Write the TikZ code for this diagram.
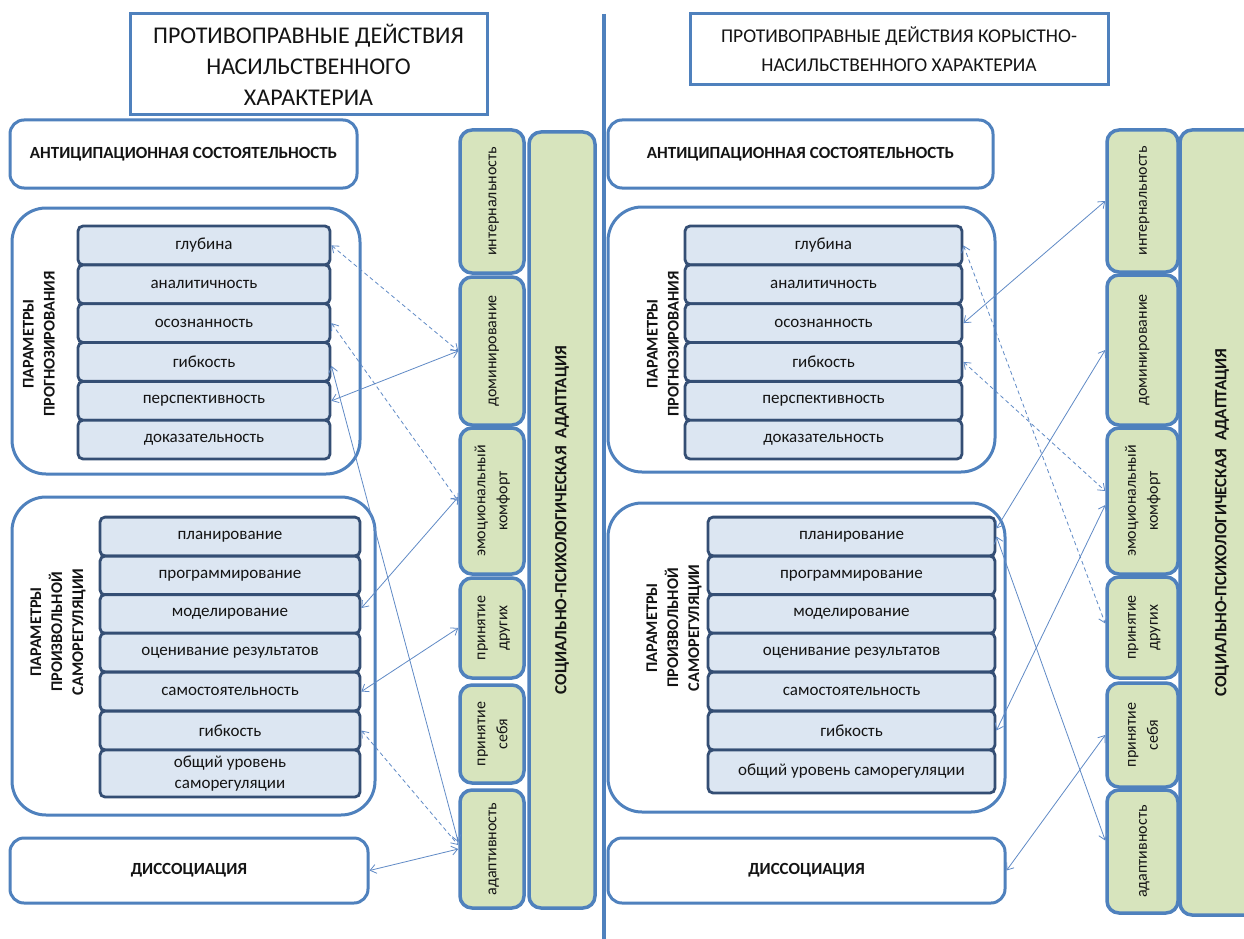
\documentclass[tikz,border=0pt]{standalone}
\usepackage{fontspec}
\setmainfont{Carlito}
\usetikzlibrary{arrows.meta}
\definecolor{obl}{RGB}{79,129,189}
\definecolor{ibd}{RGB}{52,78,116}
\definecolor{ifl}{RGB}{220,230,242}
\definecolor{gfl}{RGB}{215,228,189}
\definecolor{con}{RGB}{96,138,198}
\definecolor{txt}{RGB}{20,20,20}
\newcommand{\rlab}[1]{\rotatebox{90}{\begin{tabular}{@{}c@{}}#1\end{tabular}}}
\begin{document}
\begin{tikzpicture}[x=1pt,y=-1pt,
  titlebox/.style={draw=obl,line width=3pt,fill=white,align=center,text=txt,inner sep=0pt},
  mainbox/.style={draw=obl,line width=3pt,rounded corners=14pt,fill=white,font=\bfseries\fontsize{17}{20}\selectfont,text=txt,inner sep=0pt},
  groupbox/.style={draw=obl,line width=3pt,rounded corners=34pt,fill=white,inner sep=0pt},
  item/.style={draw=ibd,line width=2.8pt,rounded corners=5pt,fill=ifl,font=\fontsize{17}{21}\selectfont,text=txt,align=center,inner sep=0pt},
  grp/.style={font=\bfseries\fontsize{16.3}{21}\selectfont,align=center,rotate=90,text=txt},
  gbox/.style={draw=obl,line width=3.5pt,rounded corners=12pt,fill=gfl,inner sep=0pt,text=txt,font=\fontsize{16}{22}\selectfont},
  bigbox/.style={gbox,font=\bfseries\fontsize{17}{20}\selectfont},
  link/.style={draw=con,line width=0.8pt,{Straight Barb[length=6pt,width=9pt]}-{Straight Barb[length=6pt,width=9pt]}},
  dlink/.style={link,dash pattern=on 4pt off 3pt},
]
\useasboundingbox (0,0) rectangle (1244,939);
\fill[white] (0,0) rectangle (1244,939);

% divider
\draw[obl,line width=4pt] (604,14) -- (604,939);

% ================= LEFT =================
\node[titlebox,minimum width=357,minimum height=101,font=\fontsize{24}{31}\selectfont] (titleL) at (308.5,64.5)
  {ПРОТИВОПРАВНЫЕ ДЕЙСТВИЯ\\НАСИЛЬСТВЕННОГО\\ХАРАКТЕРИА};
\node[mainbox,minimum width=347,minimum height=68] (antL) at (183.5,154) {АНТИЦИПАЦИОННАЯ СОСТОЯТЕЛЬНОСТЬ};

\node[groupbox,minimum width=348,minimum height=266] (progL) at (186,341) {};
\node[grp] (progLlab) at (39,344) {ПАРАМЕТРЫ\\ПРОГНОЗИРОВАНИЯ};
\foreach \n/\t/\y in {a/глубина/245.4, b/аналитичность/284.3, c/осознанность/323.1,
  d/гибкость/361.9, e/перспективность/400.8, f/доказательность/439.6}
  \node[item,minimum width=252,minimum height=38.8] (pL\n) at (204,\y) {\t};

\node[groupbox,minimum width=363,minimum height=318] (selfL) at (193.5,656) {};
\node[grp] (selfLlab) at (58,632) {ПАРАМЕТРЫ\\ПРОИЗВОЛЬНОЙ\\САМОРЕГУЛЯЦИИ};
\foreach \n/\t/\y in {a/планирование/536.5, b/программирование/575.5, c/моделирование/614,
  d/оценивание результатов/652.5, e/самостоятельность/691.5, f/гибкость/730.5}
  \node[item,minimum width=260,minimum height=38.8] (sL\n) at (230,\y) {\t};
\node[item,minimum width=260,minimum height=47] (sLg) at (230,773.5) {общий уровень\\саморегуляции};

\node[mainbox,minimum width=358,minimum height=65] (dissL) at (189,870.5) {ДИССОЦИАЦИЯ};

\node[gbox,minimum width=64,minimum height=143] (gintL) at (492,201.5) {\rlab{интернальность}};
\node[gbox,minimum width=64,minimum height=148] (gdomL) at (492,351) {\rlab{доминирование}};
\node[gbox,minimum width=64,minimum height=146] (gemoL) at (492,501) {\rlab{эмоциональный\\комфорт}};
\node[gbox,minimum width=64,minimum height=100] (gprdL) at (492,628) {\rlab{принятие\\других}};
\node[gbox,minimum width=64,minimum height=98] (gpsL) at (492,734) {\rlab{принятие\\себя}};
\node[gbox,minimum width=64,minimum height=118] (gadL) at (492,849) {\rlab{адаптивность}};
\node[bigbox,minimum width=66,minimum height=776] (bigL) at (562,520) {\rotatebox{90}{СОЦИАЛЬНО-ПСИХОЛОГИЧЕСКАЯ\ \ АДАПТАЦИЯ}};

\draw[dlink] (pLa.east) -- (gdomL.west);
\draw[dlink] (pLc.east) -- (gemoL.west);
\draw[link] (gdomL.west) -- (pLe.east);
\draw[link] ([yshift=-4pt]pLd.east) -- ([yshift=7pt]gadL.west);
\draw[link] ([yshift=4pt]gemoL.west) -- ([yshift=6pt]sLc.east);
\draw[link] (gprdL.west) -- (sLe.east);
\draw[dlink] (sLf.east) -- ([yshift=4pt]gadL.west);
\draw[link] (gadL.west) -- (dissL.east);

% ================= RIGHT =================
\node[titlebox,minimum width=418,minimum height=71,font=\fontsize{19.5}{29}\selectfont] (titleR) at (899,49.5)
  {ПРОТИВОПРАВНЫЕ ДЕЙСТВИЯ КОРЫСТНО-\\НАСИЛЬСТВЕННОГО ХАРАКТЕРИА};
\node[mainbox,minimum width=385,minimum height=68] (antR) at (800.5,154) {АНТИЦИПАЦИОННАЯ СОСТОЯТЕЛЬНОСТЬ};

\node[groupbox,minimum width=387,minimum height=265] (progR) at (801.5,339.5) {};
\node[grp] (progRlab) at (663,344) {ПАРАМЕТРЫ\\ПРОГНОЗИРОВАНИЯ};
\foreach \n/\t/\y in {a/глубина/245.4, b/аналитичность/284.3, c/осознанность/323.1,
  d/гибкость/361.9, e/перспективность/400.8, f/доказательность/439.6}
  \node[item,minimum width=277,minimum height=38.8] (pR\n) at (823.5,\y) {\t};

\node[groupbox,minimum width=397,minimum height=309] (selfR) at (806.5,657.5) {};
\node[grp] (selfRlab) at (674,628) {ПАРАМЕТРЫ\\ПРОИЗВОЛЬНОЙ\\САМОРЕГУЛЯЦИИ};
\foreach \n/\t/\y in {a/планирование/536.5, b/программирование/575.5, c/моделирование/614,
  d/оценивание результатов/652.5, e/самостоятельность/691.5, f/гибкость/730.5}
  \node[item,minimum width=287,minimum height=38.8] (sR\n) at (851.5,\y) {\t};
\node[item,minimum width=287,minimum height=43] (sRg) at (851.5,771.5) {общий уровень саморегуляции};

\node[mainbox,minimum width=397,minimum height=65] (dissR) at (806.5,870.5) {ДИССОЦИАЦИЯ};

\node[gbox,minimum width=71,minimum height=142] (gintR) at (1142.5,201) {\rlab{интернальность}};
\node[gbox,minimum width=71,minimum height=150] (gdomR) at (1142.5,350) {\rlab{доминирование}};
\node[gbox,minimum width=71,minimum height=146] (gemoR) at (1142.5,501) {\rlab{эмоциональный\\комфорт}};
\node[gbox,minimum width=71,minimum height=101] (gprdR) at (1142.5,627.5) {\rlab{принятие\\других}};
\node[gbox,minimum width=71,minimum height=104] (gpsR) at (1142.5,735) {\rlab{принятие\\себя}};
\node[gbox,minimum width=71,minimum height=123] (gadR) at (1142.5,851.5) {\rlab{адаптивность}};
\node[bigbox,minimum width=84,minimum height=785] (bigR) at (1222,522.5) {\rotatebox{90}{СОЦИАЛЬНО-ПСИХОЛОГИЧЕСКАЯ\ \ АДАПТАЦИЯ}};

\draw[link] (gintR.west) -- (pRc.east);
\draw[link] ([yshift=8pt]sRa.east) -- (gdomR.west);
\draw[dlink] (pRa.east) -- ([yshift=4pt]gprdR.west);
\draw[dlink] (pRd.east) -- ([yshift=10pt]gemoR.west);
\draw[link] ([yshift=-4pt]gemoR.west) -- (sRf.east);
\draw[link] (sRa.east) -- ([yshift=11pt]gadR.west);
\draw[link] (gpsR.west) -- (dissR.east);
\end{tikzpicture}
\end{document}
